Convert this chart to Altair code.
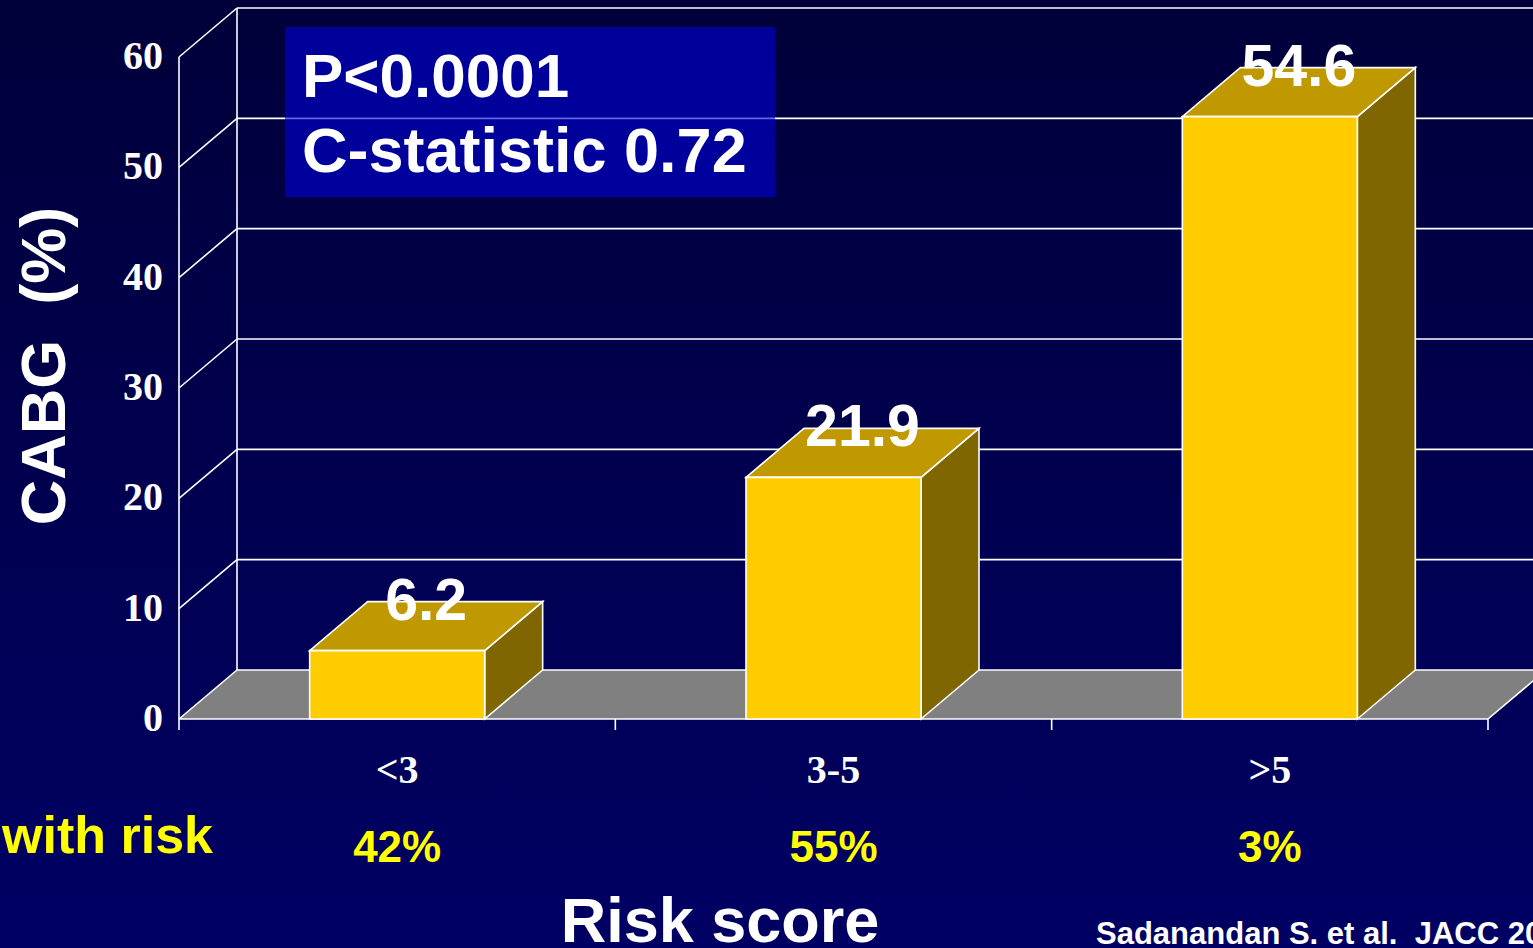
import altair as alt
import pandas as pd

# ---- data ----
categories = ["<3", "3-5", ">5"]
cabg_pct = [6.2, 21.9, 54.6]
share_with_risk = ["42%", "55%", "3%"]
y_ticks = [0, 10, 20, 30, 40, 50, 60]

# ---- layout (pixels) ----
W, H = 1533, 948
AXIS_LEFT_PX = 179      # where the category axis starts
AXIS_BOTTOM_PX = 719    # where value 0 sits on the front plane
BAND_PX = 436.33        # width of one category band
UNIT_PX = 662 / 60      # pixels per percentage point
DEPTH_PX = (58, 49)     # 3-D depth offset (right, up)
BAR_PX = 175
TICK_PX = 11

n = len(categories)
DX = DEPTH_PX[0] / BAND_PX
DY = DEPTH_PX[1] / UNIT_PX
HALF_BAR = BAR_PX / 2 / BAND_PX
Y_MAX = y_ticks[-1]

x_scale = alt.Scale(domain=[-AXIS_LEFT_PX / BAND_PX, (W - AXIS_LEFT_PX) / BAND_PX],
                    nice=False, zero=False)
y_scale = alt.Scale(domain=[(AXIS_BOTTOM_PX - H) / UNIT_PX, AXIS_BOTTOM_PX / UNIT_PX],
                    nice=False, zero=False)


def X(field):
    return alt.X(field, type="quantitative", scale=x_scale, axis=None)


def Y(field):
    return alt.Y(field, type="quantitative", scale=y_scale, axis=None)


SANS = "Liberation Sans, Arial, sans-serif"
SERIF = "Liberation Serif, Times New Roman, serif"
EDGE = dict(color="white", strokeWidth=1.6)
NBSP = "\u00a0"

# ---- derived tables ----
bars = pd.DataFrame({"cat": categories, "v": cabg_pct, "i": range(n)})
bars["xl"] = bars["i"] + 0.5 - HALF_BAR
bars["xr"] = bars["i"] + 0.5 + HALF_BAR
bars["y0"] = 0.0
bars["lx"] = bars["i"] + 0.5 + DX / 2
bars["ly"] = bars["v"] + DY
bars["label"] = bars["v"].map(lambda v: f"{v:.1f}")

top_rows, side_rows = [], []
for name, v, xl, xr in zip(bars["cat"], bars["v"], bars["xl"], bars["xr"]):
    top_rows.append({"cat": name, "y": v, "x": xl, "x2": xr})
    top_rows.append({"cat": name, "y": v + DY, "x": xl + DX, "x2": xr + DX})
    side_rows.append({"cat": name, "x": xr, "y": 0.0, "y2": v})
    side_rows.append({"cat": name, "x": xr + DX, "y": DY, "y2": v + DY})
top_df = pd.DataFrame(top_rows)
side_df = pd.DataFrame(side_rows)

floor_df = pd.DataFrame({"y": [0.0, DY], "x": [0.0, DX], "x2": [float(n), n + DX]})

ticks = pd.DataFrame({"v": y_ticks})
ticks["x0"] = 0.0
ticks["xb"] = DX
ticks["xe"] = n + DX
ticks["yb"] = ticks["v"] + DY
ticks["label"] = ticks["v"].astype(str)

edges = pd.DataFrame({
    "x": [0.0, DX, float(n), 0.0],
    "x2": [0.0, DX, n + DX, float(n)],
    "y": [0.0, DY, 0.0, 0.0],
    "y2": [float(Y_MAX), Y_MAX + DY, DY, 0.0],
})

cat_ticks = pd.DataFrame({"x": [float(k) for k in range(n + 1)], "y": 0.0,
                          "y2": -TICK_PX / UNIT_PX})

cats = pd.DataFrame({"cat": categories, "share": share_with_risk,
                     "x": [k + 0.5 for k in range(n)], "y": 0.0})

one = pd.DataFrame({"k": [0]})

# ---- layers ----
background = alt.Chart(one).mark_rect(
    fill=alt.Gradient(gradient="linear",
                      stops=[alt.GradientStop(color="#00003a", offset=0),
                             alt.GradientStop(color="#000064", offset=1)],
                      x1=0, x2=0, y1=0, y2=1)
).encode(x=alt.value(0), x2=alt.value(W), y=alt.value(0), y2=alt.value(H))

floor = alt.Chart(floor_df).mark_area(orient="horizontal", color="#808080").encode(
    y=Y("y"), x=X("x"), x2="x2")

grid = alt.Chart(ticks).mark_rule(clip=True, **EDGE).encode(
    x=X("xb"), x2="xe", y=Y("yb"))

depth = alt.Chart(ticks).mark_rule(**EDGE).encode(
    x=X("x0"), x2="xb", y=Y("v"), y2="yb")

wall_edges = alt.Chart(edges).mark_rule(clip=True, **EDGE).encode(
    x=X("x"), x2="x2", y=Y("y"), y2="y2")

stat_box = alt.Chart(one).mark_rect(fill="#0000d8", opacity=0.6).encode(
    x=alt.value(285), x2=alt.value(775), y=alt.value(27), y2=alt.value(197))

bar_top = alt.Chart(top_df).mark_area(
    orient="horizontal", fill="#c09900", stroke="white", strokeWidth=1.6
).encode(y=Y("y"), x=X("x"), x2="x2", detail="cat:N")

bar_side = alt.Chart(side_df).mark_area(
    orient="vertical", fill="#806600", stroke="white", strokeWidth=1.6
).encode(x=X("x"), y=Y("y"), y2="y2", detail="cat:N")

bar_front = alt.Chart(bars).mark_rect(
    fill="#ffcc00", stroke="white", strokeWidth=1.6
).encode(x=X("xl"), x2="xr", y=Y("y0"), y2="v")

x_ticks = alt.Chart(cat_ticks).mark_rule(**EDGE).encode(
    x=X("x"), y=Y("y"), y2="y2")

y_labels = alt.Chart(ticks).mark_text(
    align="right", baseline="middle", dx=-16, font=SERIF, fontSize=40,
    fontWeight="bold", color="white"
).encode(x=X("x0"), y=Y("v"), text="label:N")

value_labels = alt.Chart(bars).mark_text(
    align="center", baseline="middle", font=SANS, fontSize=59,
    fontWeight="bold", color="white"
).encode(x=X("lx"), y=Y("ly"), text="label:N")

cat_labels = alt.Chart(cats).mark_text(
    align="center", baseline="middle", dy=52, font=SERIF, fontSize=40,
    fontWeight="bold", color="white"
).encode(x=X("x"), y=Y("y"), text="cat:N")

share_labels = alt.Chart(cats).mark_text(
    align="center", baseline="middle", dy=130, font=SANS, fontSize=44,
    fontWeight="bold", color="#ffff00"
).encode(x=X("x"), y=Y("y"), text="share:N")


def note(text, x, y, size, color="white", align="left", angle=0, font=SANS):
    kw = dict(align=align, baseline="alphabetic", font=font, fontSize=size,
              fontWeight="bold", color=color, text=text)
    if angle:
        kw["angle"] = angle
        kw["baseline"] = "middle"
    return alt.Chart(one).mark_text(**kw).encode(x=alt.value(x), y=alt.value(y))


notes = [
    note("P<0.0001", 302, 97, 62),
    note("C-statistic 0.72", 302, 172, 63),
    note(f"CABG{NBSP}{NBSP}(%)", 46, 366, 63, align="center", angle=270),
    note("Risk score", 720, 942, 63, align="center"),
    note("with risk", 213, 853, 52, color="#ffff00", align="right"),
    note(f"Sadanandan S. et al.{NBSP}{NBSP}JACC 2004", 1096, 944, 31),
]

chart = alt.layer(
    background, floor, grid, depth, wall_edges, stat_box,
    bar_side, bar_top, bar_front, x_ticks,
    y_labels, value_labels, cat_labels, share_labels, *notes
).properties(
    width=W, height=H, padding=0,
    autosize=alt.AutoSizeParams(type="none"),
    background="#000050",
).configure_view(stroke=None)

chart.save("out.html", embed_options={"renderer": "svg", "actions": False})
